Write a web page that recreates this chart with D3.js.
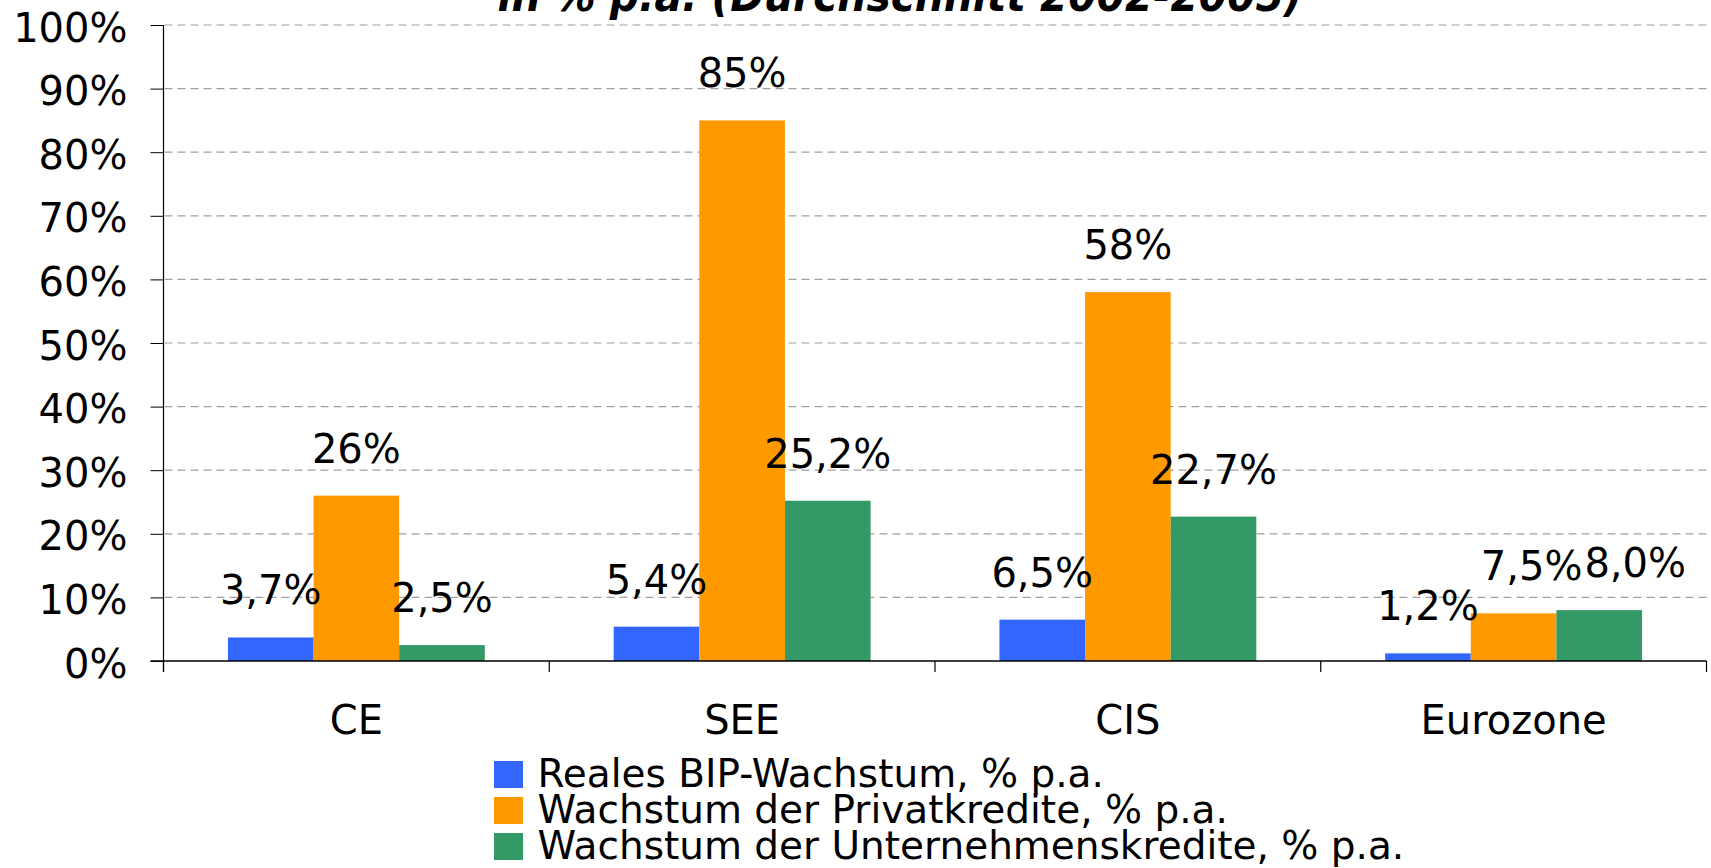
<!DOCTYPE html>
<html>
<head>
<meta charset="utf-8">
<script src="https://cdn.jsdelivr.net/npm/d3@7"></script>
<style>
  html, body { margin: 0; padding: 0; background: #fff; overflow: hidden; }
  text { font-family: "DejaVu Sans", sans-serif; fill: #000; }
</style>
</head>
<body>
<svg id="chart" width="1711" height="868"></svg>
<script>
// chart data
var categories = ["CE", "SEE", "CIS", "Eurozone"];
var seriesNames = ["Reales BIP-Wachstum, % p.a.", "Wachstum der Privatkredite, % p.a.", "Wachstum der Unternehmenskredite, % p.a."];
var bipValues = [3.7, 5.4, 6.5, 1.2];
var privatValues = [26, 85, 58, 7.5];
var unternehmenValues = [2.5, 25.2, 22.7, 8.0];
var bipLabels = ["3,7%", "5,4%", "6,5%", "1,2%"];
var privatLabels = ["26%", "85%", "58%", "7,5%"];
var unternehmenLabels = ["2,5%", "25,2%", "22,7%", "8,0%"];
var yTicks = [0, 10, 20, 30, 40, 50, 60, 70, 80, 90, 100];
var titleText = "in % p.a. (Durchschnitt 2002-2005)";

var colors = ["#3366ff", "#ff9900", "#339966"];
var allValues = [bipValues, privatValues, unternehmenValues];
var allLabels = [bipLabels, privatLabels, unternehmenLabels];

var svg = d3.select("#chart");
// note: "top" is taken by window.top, so plot edges get own names
var plotLeft = 163.5, plotRight = 1706.5, plotTop = 25, plotBottom = 661;

var x0 = d3.scaleBand().domain(categories).range([plotLeft, plotRight])
  .paddingInner(0.334).paddingOuter(0.167);
var x1 = d3.scaleBand().domain(d3.range(seriesNames.length)).range([0, x0.bandwidth()]);
var y = d3.scaleLinear().domain([0, 100]).range([plotBottom, plotTop]);

// gridlines
svg.append("g").selectAll("line").data(yTicks.filter(function(d) { return d > 0; }))
  .enter().append("line")
  .attr("x1", plotLeft + 1).attr("x2", plotRight)
  .attr("y1", function(d) { return y(d); }).attr("y2", function(d) { return y(d); })
  .attr("stroke", "#a0a0a0").attr("stroke-width", 1.2)
  .attr("stroke-dasharray", "8,5");

// y axis
var yAxis = svg.append("g").attr("transform", "translate(" + plotLeft + ",0)")
  .call(d3.axisLeft(y).tickValues(yTicks).tickSize(13).tickPadding(23)
    .tickFormat(function(d) { return d + "%"; }));
yAxis.select(".domain").remove();
yAxis.selectAll(".tick line").attr("stroke", "#000");
yAxis.selectAll(".tick text").attr("font-size", 40).attr("font-family", "DejaVu Sans")
  .attr("dy", "0.4em").attr("fill", "#000");
svg.append("line").attr("x1", plotLeft).attr("x2", plotLeft).attr("y1", plotTop).attr("y2", plotBottom + 11)
  .attr("stroke", "#000").attr("stroke-width", 1.2);

// bars
var groups = svg.append("g").selectAll("g").data(categories).enter().append("g")
  .attr("transform", function(d) { return "translate(" + x0(d) + ",0)"; });
groups.selectAll("rect")
  .data(function(d, i) { return allValues.map(function(v, s) { return { s: s, v: v[i] }; }); })
  .enter().append("rect")
  .attr("x", function(d) { return x1(d.s); })
  .attr("y", function(d) { return y(d.v); })
  .attr("width", x1.bandwidth())
  .attr("height", function(d) { return plotBottom - y(d.v); })
  .attr("fill", function(d) { return colors[d.s]; });

// x axis line + boundary ticks
svg.append("line").attr("x1", plotLeft - 13).attr("x2", plotRight).attr("y1", plotBottom).attr("y2", plotBottom)
  .attr("stroke", "#000").attr("stroke-width", 1.5);
svg.append("g").selectAll("line").data(d3.range(categories.length + 1)).enter().append("line")
  .attr("x1", function(i) { return plotLeft + i * x0.step(); })
  .attr("x2", function(i) { return plotLeft + i * x0.step(); })
  .attr("y1", plotBottom).attr("y2", plotBottom + 11)
  .attr("stroke", "#000").attr("stroke-width", 1.2);

var xAxis = svg.append("g").attr("transform", "translate(0," + plotBottom + ")")
  .call(d3.axisBottom(x0).tickSize(0).tickPadding(45));
xAxis.select(".domain").remove();
xAxis.selectAll(".tick text").attr("font-size", 40).attr("font-family", "DejaVu Sans").attr("fill", "#000");

// value labels
var labelLayer = svg.append("g");
categories.forEach(function(c, i) {
  var placed = [];
  allValues.forEach(function(v, s) {
    var t = labelLayer.append("text")
      .attr("text-anchor", "middle")
      .attr("font-size", 40)
      .attr("x", x0(c) + x1(s) + x1.bandwidth() / 2)
      .attr("y", y(v[i]) - 33)
      .text(allLabels[s][i]);
    var b = t.node().getBBox();
    // push label right if it runs into the previous one on the same height
    placed.forEach(function(p) {
      var vOverlap = b.y < p.y + p.height && p.y < b.y + b.height;
      if (vOverlap && b.x < p.x + p.width + 2) {
        var shift = p.x + p.width + 2 - b.x;
        t.attr("x", +t.attr("x") + shift);
        b = t.node().getBBox();
      }
    });
    placed.push(b);
  });
});

// legend
var legend = svg.append("g").attr("transform", "translate(494,761)");
var rows = legend.selectAll("g").data(seriesNames).enter().append("g")
  .attr("transform", function(d, i) { return "translate(0," + (i * 36) + ")"; });
rows.append("rect").attr("width", 29).attr("height", 27)
  .attr("fill", function(d, i) { return colors[i]; });
rows.append("text").attr("x", 43.5).attr("y", 26).attr("font-size", 39).text(function(d) { return d; });

// title (top part cut off like in the source)
svg.append("text").attr("x", 900).attr("y", 11).attr("text-anchor", "middle")
  .attr("font-family", "DejaVu Sans Condensed").attr("font-weight", "bold")
  .attr("font-style", "italic").attr("font-size", 45)
  .attr("textLength", 805).attr("lengthAdjust", "spacingAndGlyphs")
  .text(titleText);
</script>
</body>
</html>
